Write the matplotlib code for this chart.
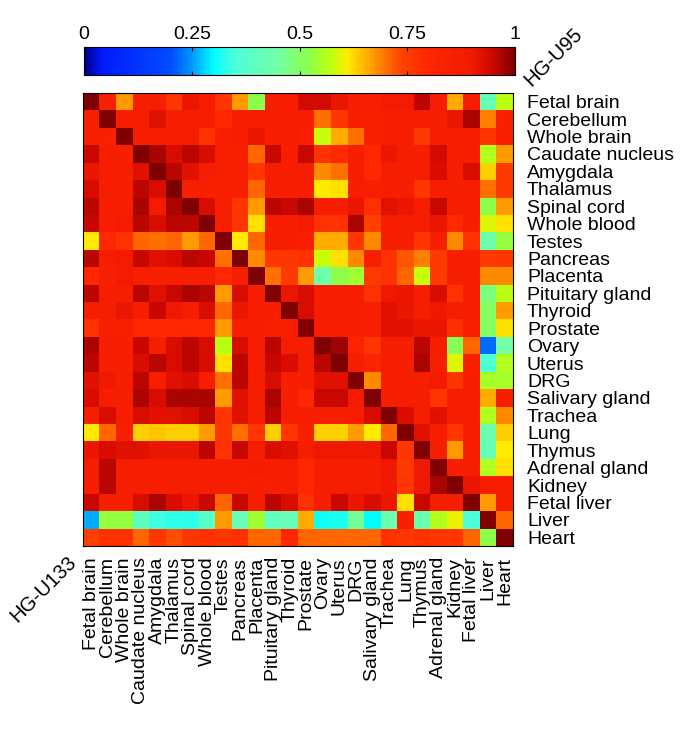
import numpy as np
import matplotlib
matplotlib.use('Agg')
import matplotlib.pyplot as plt
from matplotlib.colors import LinearSegmentedColormap

plt.rcParams['font.family'] = ['Liberation Sans', 'DejaVu Sans']

tissues = ['Fetal brain', 'Cerebellum', 'Whole brain', 'Caudate nucleus', 'Amygdala',
           'Thalamus', 'Spinal cord', 'Whole blood', 'Testes', 'Pancreas', 'Placenta',
           'Pituitary gland', 'Thyroid', 'Prostate', 'Ovary', 'Uterus', 'DRG',
           'Salivary gland', 'Trachea', 'Lung', 'Thymus', 'Adrenal gland', 'Kidney',
           'Fetal liver', 'Liver', 'Heart']

# rows: HG-U95 tissues (right labels), columns: HG-U133 tissues (bottom labels)
corr_rows = [
    [1.0, .85, .67, .86, .86, .76, .91, .86, .76, .67, .52, .87, .87, .94, .94, .91, .87, .85, .89, .89, .96, .87, .66, .87, .42, .57],
    [.84, 1.0, .86, .86, .92, .86, .87, .86, .80, .86, .86, .86, .86, .86, .70, .76, .86, .85, .86, .86, .86, .86, .91, .97, .69, .84],
    [.84, .84, 1.0, .86, .86, .86, .86, .77, .84, .86, .91, .86, .86, .84, .58, .66, .70, .85, .86, .86, .75, .86, .86, .86, .76, .85],
    [.95, .86, .86, 1.0, .97, .93, .96, .93, .84, .85, .71, .95, .87, .95, .77, .79, .86, .80, .91, .86, .86, .94, .86, .86, .56, .67],
    [.91, .86, .86, .92, 1.0, .96, .92, .87, .85, .85, .76, .86, .86, .86, .68, .70, .86, .80, .86, .86, .86, .93, .87, .93, .63, .75],
    [.93, .86, .86, .96, .93, 1.0, .85, .85, .84, .85, .71, .86, .86, .86, .61, .62, .86, .85, .86, .86, .76, .86, .86, .86, .70, .75],
    [.96, .86, .86, .97, .89, .97, 1.0, .93, .85, .76, .67, .96, .95, .97, .86, .86, .91, .78, .92, .91, .86, .95, .86, .86, .52, .67],
    [.95, .86, .89, .96, .93, .96, .96, 1.0, .84, .76, .62, .86, .86, .89, .77, .77, .97, .74, .86, .86, .86, .91, .79, .86, .59, .62],
    [.61, .80, .77, .71, .70, .71, .67, .71, 1.0, .61, .71, .86, .86, .85, .66, .66, .76, .68, .86, .86, .76, .86, .68, .77, .44, .53],
    [.96, .86, .89, .95, .92, .93, .96, .95, .70, 1.0, .68, .76, .76, .77, .58, .62, .68, .85, .77, .72, .69, .75, .86, .86, .75, .76],
    [.80, .85, .89, .85, .85, .85, .85, .85, .80, .85, 1.0, .70, .75, .67, .44, .52, .54, .75, .77, .71, .58, .75, .86, .86, .68, .68],
    [.96, .86, .86, .96, .92, .95, .97, .96, .67, .93, .86, 1.0, .91, .93, .86, .86, .86, .77, .90, .91, .86, .93, .77, .86, .48, .57],
    [.86, .86, .91, .86, .95, .90, .86, .93, .71, .91, .86, .86, 1.0, .93, .86, .86, .86, .85, .92, .91, .86, .90, .86, .86, .50, .67],
    [.77, .85, .85, .80, .80, .80, .80, .80, .67, .86, .86, .85, .85, 1.0, .86, .86, .86, .85, .92, .92, .91, .91, .78, .85, .50, .62],
    [.97, .86, .86, .95, .86, .93, .96, .93, .57, .93, .86, .96, .86, .86, 1.0, .98, .82, .76, .86, .86, .96, .86, .51, .71, .22, .45],
    [.96, .86, .86, .93, .96, .93, .96, .93, .62, .96, .86, .95, .93, .86, .96, 1.0, .86, .82, .86, .86, .97, .85, .59, .85, .36, .56],
    [.92, .90, .86, .96, .86, .92, .93, .86, .70, .96, .86, .93, .86, .86, .92, .92, 1.0, .68, .86, .86, .86, .89, .76, .86, .55, .55],
    [.93, .86, .86, .97, .93, .97, .97, .97, .67, .92, .86, .97, .86, .80, .95, .95, .89, 1.0, .86, .86, .86, .76, .86, .86, .66, .86],
    [.86, .93, .86, .93, .92, .92, .93, .96, .76, .92, .86, .96, .86, .86, .86, .86, .86, .93, 1.0, .93, .86, .92, .86, .86, .56, .68],
    [.61, .71, .84, .63, .64, .63, .63, .67, .76, .70, .76, .63, .76, .84, .63, .63, .67, .61, .71, 1.0, .92, .86, .76, .86, .43, .63],
    [.91, .93, .92, .92, .91, .91, .91, .96, .77, .95, .86, .93, .92, .86, .90, .90, .90, .90, .95, .76, 1.0, .86, .67, .86, .42, .61],
    [.86, .96, .86, .86, .86, .86, .86, .86, .86, .86, .88, .86, .86, .80, .86, .86, .86, .86, .90, .75, .90, 1.0, .86, .86, .56, .62],
    [.86, .96, .86, .86, .86, .86, .86, .86, .86, .86, .86, .86, .86, .80, .86, .86, .86, .86, .90, .76, .90, .97, 1.0, .91, .86, .86],
    [.95, .86, .86, .93, .97, .93, .91, .95, .71, .95, .86, .96, .93, .77, .86, .95, .91, .93, .91, .62, .95, .86, .86, 1.0, .67, .86],
    [.26, .53, .53, .40, .34, .33, .33, .38, .67, .42, .54, .40, .42, .66, .31, .32, .46, .30, .43, .84, .43, .56, .60, .35, 1.0, .71],
    [.74, .77, .77, .71, .76, .73, .76, .77, .76, .77, .71, .71, .80, .71, .71, .71, .71, .71, .77, .76, .77, .76, .76, .71, .52, 1.0],
]

cbar_ticks = [0, 0.25, 0.5, 0.75, 1]
cbar_labels = ['0', '0.25', '0.5', '0.75', '1']
marked = [5, 10, 15, 20, 25]

# jet-like map, stretched so most of the upper range is red
cmap = LinearSegmentedColormap.from_list('corr_jet', [
    (0.00, (0.0, 0.0, 0.55)),
    (0.04, (0.0, 0.1, 1.0)),
    (0.20, (0.0, 0.3, 1.0)),
    (0.25, (0.0, 0.6, 1.0)),
    (0.30, (0.0, 1.0, 1.0)),
    (0.35, (0.3, 1.0, 0.85)),
    (0.45, (0.45, 1.0, 0.65)),
    (0.52, (0.55, 1.0, 0.3)),
    (0.575, (0.75, 1.0, 0.05)),
    (0.61, (1.0, 0.93, 0.0)),
    (0.65, (1.0, 0.72, 0.0)),
    (0.69, (1.0, 0.5, 0.0)),
    (0.74, (1.0, 0.25, 0.0)),
    (0.80, (1.0, 0.15, 0.0)),
    (0.90, (0.95, 0.1, 0.0)),
    (0.95, (0.8, 0.03, 0.0)),
    (1.00, (0.5, 0.0, 0.0)),
])

W, H = 685, 732
fs = 14
fig = plt.figure(figsize=(W / 100, H / 100), dpi=100)
ax = fig.add_axes([83 / W, 1 - 546 / H, 430 / W, 453 / H])
cax = fig.add_axes([84 / W, 1 - 75 / H, 431 / W, 28 / H])

data = np.array(corr_rows)
n = len(tissues)
im = ax.imshow(data, cmap=cmap, vmin=0, vmax=1, aspect='auto', interpolation='nearest')

ax.set_xticks(np.arange(n))
ax.set_xticklabels(tissues, rotation=90, fontsize=fs)
ax.set_yticks(np.arange(n))
ax.set_yticklabels(tissues, fontsize=fs)
ax.tick_params(axis='both', which='major', length=0)
ax.tick_params(axis='y', labelleft=False, labelright=True, pad=10)
ax.tick_params(axis='x', pad=8)
ax.set_xticks(np.array(marked) - 1, minor=True)
ax.set_yticks(np.array(marked) - 1, minor=True)
ax.tick_params(which='minor', direction='out', length=3.5, width=0.8,
               left=True, right=True, bottom=True, top=False)
for s in ax.spines.values():
    s.set_linewidth(0.8)

cb = fig.colorbar(im, cax=cax, orientation='horizontal', ticks=cbar_ticks)
cb.set_ticklabels(cbar_labels)
cax.tick_params(direction='in', length=3, width=0.8, top=True, bottom=True,
                labeltop=True, labelbottom=False, labelsize=14, pad=3)
cb.outline.set_linewidth(0.8)

fig.text(553 / W, 1 - 57 / H, 'HG-U95', rotation=45, fontsize=14.5, ha='center', va='center')
fig.text(43 / W, 1 - 589 / H, 'HG-U133', rotation=45, fontsize=14.5, ha='center', va='center')

fig.savefig('out.png', dpi=100)
